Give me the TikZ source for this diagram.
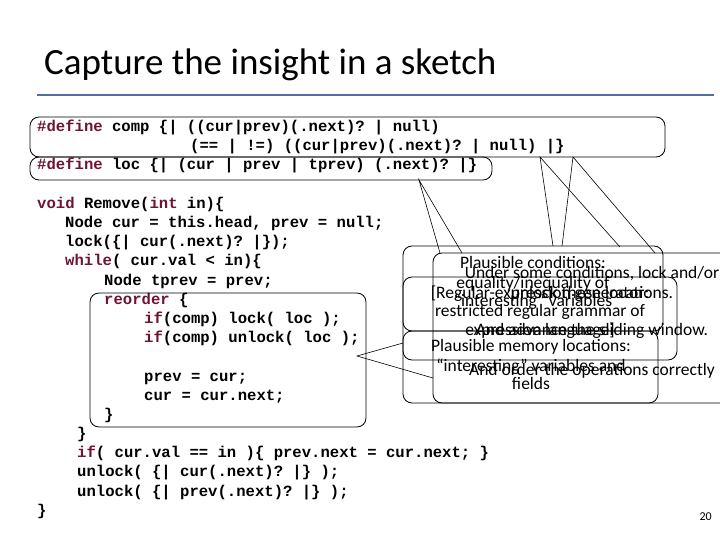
\documentclass[tikz,border=0pt]{standalone}
\usepackage{fontspec}
\setmainfont{Carlito}
\setmonofont{Liberation Mono}
\usepackage{tikz}

\begin{document}
\begin{tikzpicture}[x=1pt,y=-1pt,
    code/.style={anchor=base west, inner sep=0pt, font=\ttfamily\bfseries\fontsize{15.6}{18}\selectfont},
    note/.style={anchor=base, inner sep=0pt, font=\fontsize{17.5}{20}\selectfont},
    bubble/.style={draw, rounded corners=9pt, line width=0.8pt},
    wedge/.style={draw, line width=0.6pt}]
    % Define colors
    \definecolor{keyword}{RGB}{110,20,50}
    \definecolor{rulecolor}{RGB}{80,110,160}
    \def\kw#1{\textcolor{keyword}{#1}}

    \useasboundingbox (0,0) rectangle (720,540);

    % Title and rule
    \node[anchor=base west, inner sep=0pt, font=\fontsize{37}{42}\selectfont] (title) at (44,75) {Capture the insight in a sketch};
    \coordinate (ruleL) at (37,95);
    \coordinate (ruleR) at (714,95);
    \draw[rulecolor, line width=2pt] (ruleL) -- (ruleR);

    % Definitions
    \node[code] (comp1) at (37,132) {\kw{\#define} comp \{| ((cur|prev)(.next)? | null)};
    \node[code] (comp2) at (190,151) {(== | !=) ((cur|prev)(.next)? | null) |\}};
    \node[code] (loc) at (37,170) {\kw{\#define} loc \{| (cur | prev | tprev) (.next)? |\}};
    \draw[bubble] (30,117) rectangle (665,157);
    \draw[bubble] (30,157) rectangle (492,180);

    % Code body
    \node[code] (l1) at (37,208) {\kw{void} Remove(\kw{int} in)\{};
    \node[code] (l2) at (65,227) {Node cur = this.head, prev = null;};
    \node[code] (l3) at (65,246) {lock(\{| cur(.next)? |\});};
    \node[code] (l4) at (65,265) {\kw{while}( cur.val < in)\{};
    \node[code] (l5) at (104,285) {Node tprev = prev;};
    \node[code] (l6) at (104,304) {\kw{reorder} \{};
    \node[code] (l7) at (144,323) {\kw{if}(comp) lock( loc );};
    \node[code] (l8) at (144,342) {\kw{if}(comp) unlock( loc );};
    \node[code] (l9) at (144,381) {prev = cur;};
    \node[code] (l10) at (144,400) {cur = cur.next;};
    \node[code] (l11) at (104,419) {\}};
    \node[code] (l12) at (77,438) {\}};
    \node[code] (l13) at (77,457) {\kw{if}( cur.val == in )\{ prev.next = cur.next; \}};
    \node[code] (l14) at (77,476) {unlock( \{| cur(.next)? |\} );};
    \node[code] (l15) at (77,496) {unlock( \{| prev(.next)? |\} );};
    \node[code] (l16) at (37,515) {\}};
    \draw[bubble] (90,293) rectangle (366,427);

    % Callout bubbles
    \draw[bubble] (403,246) rectangle (663,331);
    \draw[bubble] (433,253) rectangle (740,403);
    \draw[bubble] (403,277) rectangle (677,360);
    \draw[bubble] (403,331) rectangle (658,403);

    % Wedges
    \coordinate (locTip) at (419,180);
    \coordinate (compTipA) at (540,157);
    \coordinate (compTipB) at (573,157);
    \coordinate (reorderTip) at (357,356);
    \draw[wedge] (440,253) -- (locTip) -- (462,253);
    \draw[wedge] (553,246) -- (compTipA) -- (620,247);
    \draw[wedge] (562,246) -- (compTipB) -- (655,253);
    \draw[wedge] (403,343) -- (reorderTip) -- (433,378);

    % Callout texts
    \node[note] (condA) at (533,268) {Plausible conditions:};
    \node[note] (condB) at (533,288) {equality/inequality of};
    \node[note] (condC) at (533,306) {“interesting” variables};
    \node[note] (doA) at (592,278) {Under some conditions, lock and/or};
    \node[note] (doB) at (592,298) {unlock these locations.};
    \node[note] (doC) at (592,335) {And advance the sliding window.};
    \node[note] (doD) at (592,375) {And order the operations correctly};
    \node[note] (genA) at (540,298) {[Regular-expression generator:};
    \node[note] (genB) at (540,316) {restricted regular grammar of};
    \node[note] (genC) at (540,335) {expression language]};
    \node[note] (memA) at (531,351) {Plausible memory locations:};
    \node[note] (memB) at (531,371) {“interesting” variables and};
    \node[note] (memC) at (531,389) {fields};

    % Page number
    \node[anchor=base east, inner sep=0pt, font=\fontsize{12}{14}\selectfont] (page) at (712,520) {20};
\end{tikzpicture}
\end{document}
